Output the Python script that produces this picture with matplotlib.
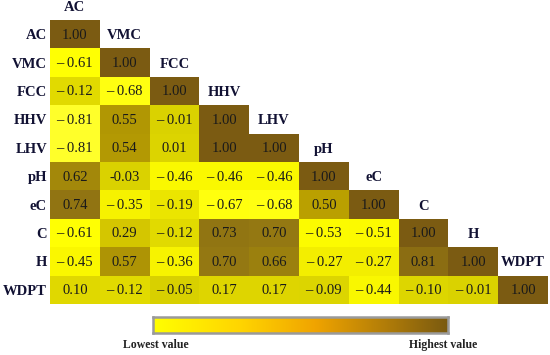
import numpy as np
import matplotlib
matplotlib.use("Agg")
import matplotlib.pyplot as plt
from matplotlib.colors import LinearSegmentedColormap

labels = ["AC", "VMC", "FCC", "HHV", "LHV", "pH", "eC", "C", "H", "WDPT"]

# lower-triangular correlation rows (including diagonal)
rows = [
    [1.00],
    [-0.61, 1.00],
    [-0.12, -0.68, 1.00],
    [-0.81, 0.55, -0.01, 1.00],
    [-0.81, 0.54, 0.01, 1.00, 1.00],
    [0.62, -0.03, -0.46, -0.46, -0.46, 1.00],
    [0.74, -0.35, -0.19, -0.67, -0.68, 0.50, 1.00],
    [-0.61, 0.29, -0.12, 0.73, 0.70, -0.53, -0.51, 1.00],
    [-0.45, 0.57, -0.36, 0.70, 0.66, -0.27, -0.27, 0.81, 1.00],
    [0.10, -0.12, -0.05, 0.17, 0.17, -0.09, -0.44, -0.10, -0.01, 1.00],
]
# cells printed with a plain hyphen instead of "– "
plain_minus = {(5, 1)}

n = len(labels)
M = np.full((n, n), np.nan)
for i, r in enumerate(rows):
    M[i, :len(r)] = r
Mm = np.ma.masked_invalid(M)

cell_cmap = LinearSegmentedColormap.from_list("cells", [
    (0.00, "#ffff50"),
    (0.20, "#ffff00"),
    (0.38, "#f2ec00"),
    (0.47, "#d8d000"),
    (0.55, "#e0d800"),
    (0.62, "#dcd200"),
    (0.66, "#d0c000"),
    (0.76, "#b89e00"),
    (0.85, "#947812"),
    (1.00, "#7b5b12"),
])

bar_cmap = LinearSegmentedColormap.from_list("bar", [
    (0.00, "#ffff00"),
    (0.30, "#ffd400"),
    (0.55, "#f0a400"),
    (1.00, "#7a5a10"),
])

serif = ["Liberation Serif", "DejaVu Serif"]

fig = plt.figure(figsize=(5.5, 3.55), dpi=100)
ax = fig.add_axes([50 / 550, (355 - 304) / 355, 498 / 550, 284 / 355])
ax.pcolormesh(np.arange(n + 1) - 0.5, np.arange(n + 1) - 0.5, Mm,
              cmap=cell_cmap, vmin=-1, vmax=1, shading="flat")
ax.set_xlim(-0.5, n - 0.5)
ax.set_ylim(n - 0.5, -0.5)
ax.axis("off")

for i in range(n):
    for j in range(i + 1):
        v = M[i, j]
        if v < 0:
            txt = f"-{abs(v):.2f}" if (i, j) in plain_minus else f"\u2013 {abs(v):.2f}"
        else:
            txt = f"{v:.2f}"
        ax.text(j, i + 0.03, txt, ha="center", va="center", fontsize=10.5,
                family=serif, color="#1a1a1a")
    # diagonal header label above the diagonal cell
    ax.text(i, i - 1 + 0.05, labels[i], ha="center", va="center", fontsize=10.5,
            family=serif, fontweight="bold", color="#111133", clip_on=False)
    # row label on the left
    ax.text(-0.56, i + 0.05, labels[i], ha="right", va="center", fontsize=10.5,
            family=serif, fontweight="bold", color="#111133", clip_on=False)

# colour legend bar
cax = fig.add_axes([153 / 550, (355 - 333) / 355, 295 / 550, 16 / 355])
cax.imshow(np.linspace(0, 1, 256)[None, :], aspect="auto", cmap=bar_cmap,
           extent=[0, 1, 0, 1])
cax.set_xticks([])
cax.set_yticks([])
for s in cax.spines.values():
    s.set_color("#9a9a9a")
    s.set_linewidth(1.8)

fig.text(156 / 550, 1 - 345 / 355, "Lowest value", ha="center", va="center",
         fontsize=8.5, family=serif, fontweight="bold", color="#222222")
fig.text(443 / 550, 1 - 345 / 355, "Highest value", ha="center", va="center",
         fontsize=8.5, family=serif, fontweight="bold", color="#222222")

fig.savefig("out.png", dpi=100)
